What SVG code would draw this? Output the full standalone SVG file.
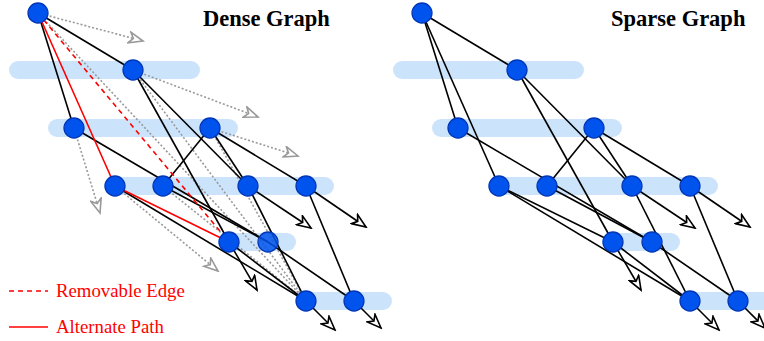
<svg xmlns="http://www.w3.org/2000/svg" width="764" height="341" viewBox="0 0 764 341">
<style>
.bar{fill:#cce4fb}
.n{fill:#0053ec;stroke:#0036b8;stroke-width:1.3}
.e{stroke:#000;stroke-width:1.6;fill:none}
.r{stroke:#ff0000;stroke-width:1.6;fill:none}
.rd{stroke:#ff0000;stroke-width:1.6;fill:none;stroke-dasharray:5,4}
.g{stroke:#999;stroke-width:1.6;fill:none;stroke-dasharray:2,2}
.ea{stroke:#000;stroke-width:1.6;fill:none;marker-end:url(#ab)}
.ga{stroke:#999;stroke-width:1.6;fill:none;stroke-dasharray:2,2;marker-end:url(#ag)}
.t{font-family:"Liberation Serif",serif;font-weight:bold;font-size:22.5px;fill:#000}
.l{font-family:"Liberation Serif",serif;font-size:18.8px;fill:#ff0000}
</style>
<defs>
<marker id="ab" markerUnits="userSpaceOnUse" markerWidth="17" markerHeight="13" refX="15" refY="6.5" orient="auto" viewBox="0 0 17 13">
<path d="M1,1 L15,6.5 L1,12 L5,6.5 z" fill="#fff" stroke="#000" stroke-width="1.6"/>
</marker>
<marker id="ag" markerUnits="userSpaceOnUse" markerWidth="17" markerHeight="13" refX="15" refY="6.5" orient="auto" viewBox="0 0 17 13">
<path d="M1,1 L15,6.5 L1,12 L5,6.5 z" fill="#fff" stroke="#999" stroke-width="1.6"/>
</marker>
</defs>
<g id="bars">
<rect class="bar" x="9" y="61" width="191" height="18" rx="9"/>
<rect class="bar" x="48" y="119" width="190" height="18" rx="9"/>
<rect class="bar" x="104" y="177" width="230" height="18" rx="9"/>
<rect class="bar" x="218" y="233" width="78" height="18" rx="9"/>
<rect class="bar" x="296" y="292" width="96" height="18" rx="9"/>
<rect class="bar" x="393" y="61" width="191" height="18" rx="9"/>
<rect class="bar" x="432" y="119" width="190" height="18" rx="9"/>
<rect class="bar" x="488" y="177" width="230" height="18" rx="9"/>
<rect class="bar" x="602" y="233" width="78" height="18" rx="9"/>
<rect class="bar" x="680" y="292" width="96" height="18" rx="9"/>
</g>
<g id="connectors">
<line class="ga" x1="38" y1="13" x2="143" y2="41"/>
<line class="ga" x1="133" y1="70" x2="258" y2="117"/>
<line class="ga" x1="74" y1="128" x2="100" y2="213"/>
<line class="ga" x1="210" y1="128" x2="298" y2="156"/>
<line class="ga" x1="115" y1="186" x2="218" y2="271"/>
<line class="g" x1="38" y1="13" x2="306" y2="301"/>
<line class="g" x1="133" y1="70" x2="306" y2="301"/>
<line class="g" x1="210" y1="128" x2="306" y2="301"/>
<line class="g" x1="163" y1="186" x2="306" y2="301"/>
<line class="e" x1="38" y1="13" x2="133" y2="70"/>
<line class="e" x1="38" y1="13" x2="74" y2="128"/>
<line class="e" x1="133" y1="70" x2="248" y2="186"/>
<line class="e" x1="133" y1="70" x2="229" y2="242"/>
<line class="e" x1="74" y1="128" x2="268" y2="242"/>
<line class="e" x1="210" y1="128" x2="163" y2="186"/>
<line class="e" x1="210" y1="128" x2="248" y2="186"/>
<line class="e" x1="210" y1="128" x2="306" y2="186"/>
<line class="e" x1="115" y1="186" x2="306" y2="301"/>
<line class="e" x1="163" y1="186" x2="268" y2="242"/>
<line class="e" x1="248" y1="186" x2="306" y2="301"/>
<line class="e" x1="306" y1="186" x2="354" y2="301"/>
<line class="e" x1="229" y1="242" x2="306" y2="301"/>
<line class="e" x1="268" y1="242" x2="354" y2="301"/>
<line class="ea" x1="248" y1="186" x2="311" y2="228"/>
<line class="ea" x1="306" y1="186" x2="366" y2="227"/>
<line class="ea" x1="229" y1="242" x2="257" y2="290"/>
<line class="ea" x1="306" y1="301" x2="335" y2="330"/>
<line class="ea" x1="354" y1="301" x2="381" y2="328"/>
<line class="r" x1="38" y1="13" x2="115" y2="186"/>
<line class="r" x1="115" y1="186" x2="229" y2="242"/>
<line class="rd" x1="38" y1="13" x2="229" y2="242"/>
<line class="e" x1="422" y1="13" x2="517" y2="70"/>
<line class="e" x1="422" y1="13" x2="458" y2="128"/>
<line class="e" x1="422" y1="13" x2="499" y2="186"/>
<line class="e" x1="517" y1="70" x2="632" y2="186"/>
<line class="e" x1="517" y1="70" x2="613" y2="242"/>
<line class="e" x1="458" y1="128" x2="652" y2="242"/>
<line class="e" x1="594" y1="128" x2="547" y2="186"/>
<line class="e" x1="594" y1="128" x2="632" y2="186"/>
<line class="e" x1="594" y1="128" x2="690" y2="186"/>
<line class="e" x1="499" y1="186" x2="613" y2="242"/>
<line class="e" x1="499" y1="186" x2="690" y2="301"/>
<line class="e" x1="547" y1="186" x2="652" y2="242"/>
<line class="e" x1="632" y1="186" x2="690" y2="301"/>
<line class="e" x1="690" y1="186" x2="738" y2="301"/>
<line class="e" x1="613" y1="242" x2="690" y2="301"/>
<line class="e" x1="652" y1="242" x2="738" y2="301"/>
<line class="ea" x1="632" y1="186" x2="695" y2="228"/>
<line class="ea" x1="690" y1="186" x2="750" y2="227"/>
<line class="ea" x1="613" y1="242" x2="641" y2="290"/>
<line class="ea" x1="690" y1="301" x2="719" y2="330"/>
<line class="ea" x1="738" y1="301" x2="765" y2="328"/>
</g>
<g id="legend">
<line class="rd" x1="9" y1="291" x2="48" y2="291"/>
<line class="r" x1="9" y1="327" x2="48" y2="327"/>
<text class="l" x="56" y="297">Removable Edge</text>
<text class="l" x="56" y="333">Alternate Path</text>
</g>
<text class="t" x="203" y="26">Dense Graph</text>
<text class="t" x="611" y="26">Sparse Graph</text>
<g id="nodeA"><circle class="n" cx="38" cy="13" r="10"/></g>
<g id="nodeB"><circle class="n" cx="133" cy="70" r="10"/></g>
<g id="nodeC"><circle class="n" cx="74" cy="128" r="10"/></g>
<g id="nodeD"><circle class="n" cx="210" cy="128" r="10"/></g>
<g id="nodeE"><circle class="n" cx="115" cy="186" r="10"/></g>
<g id="nodeF"><circle class="n" cx="163" cy="186" r="10"/></g>
<g id="nodeG"><circle class="n" cx="248" cy="186" r="10"/></g>
<g id="nodeH"><circle class="n" cx="306" cy="186" r="10"/></g>
<g id="nodeI"><circle class="n" cx="229" cy="242" r="10"/></g>
<g id="nodeJ"><circle class="n" cx="268" cy="242" r="10" fill-opacity="0.85"/></g>
<g id="nodeK"><circle class="n" cx="306" cy="301" r="10"/></g>
<g id="nodeL"><circle class="n" cx="354" cy="301" r="10"/></g>
<g id="nodeA2"><circle class="n" cx="422" cy="13" r="10"/></g>
<g id="nodeB2"><circle class="n" cx="517" cy="70" r="10"/></g>
<g id="nodeC2"><circle class="n" cx="458" cy="128" r="10"/></g>
<g id="nodeD2"><circle class="n" cx="594" cy="128" r="10"/></g>
<g id="nodeE2"><circle class="n" cx="499" cy="186" r="10"/></g>
<g id="nodeF2"><circle class="n" cx="547" cy="186" r="10"/></g>
<g id="nodeG2"><circle class="n" cx="632" cy="186" r="10"/></g>
<g id="nodeH2"><circle class="n" cx="690" cy="186" r="10"/></g>
<g id="nodeI2"><circle class="n" cx="613" cy="242" r="10"/></g>
<g id="nodeJ2"><circle class="n" cx="652" cy="242" r="10"/></g>
<g id="nodeK2"><circle class="n" cx="690" cy="301" r="10"/></g>
<g id="nodeL2"><circle class="n" cx="738" cy="301" r="10"/></g>
</svg>
